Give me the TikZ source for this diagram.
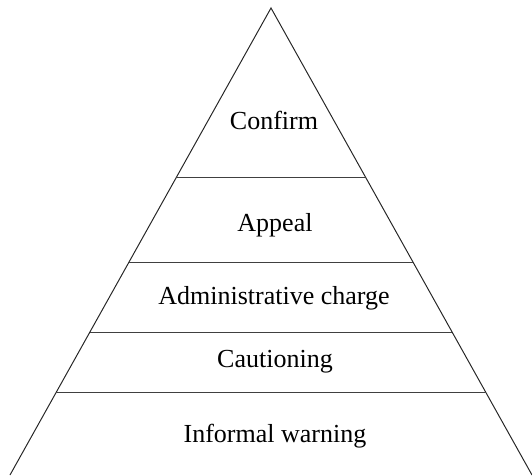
\documentclass[tikz,border=0pt]{standalone}
\usepackage{fontspec}
\setmainfont{Liberation Serif}
\usetikzlibrary{calc}

\begin{document}
\begin{tikzpicture}[
    x=0.025cm, y=0.025cm,
    side line/.style={black!85, line width=0.7pt},
    level line/.style={black!75, line width=0.7pt},
    level label/.style={font=\fontsize{18.5}{22}\selectfont, inner sep=0pt, anchor=base}
]
    \useasboundingbox (0,0) rectangle (532,475);

    % Corners of the pyramid
    \coordinate (apex) at (271,467);
    \coordinate (base_left) at (10,0);
    \coordinate (base_right) at (532,0);

    % Two sides (the base lies on the bottom edge)
    \draw[side line] (base_left) -- (apex) -- (base_right);

    % Dividing lines between the levels
    \foreach \t in {0.362, 0.544, 0.694, 0.824} {
        \draw[level line] ($(apex)!\t!(base_left)$) -- ($(apex)!\t!(base_right)$);
    }

    % Level names, top to bottom (placed by baseline)
    \node[level label] (confirm) at (274,345) {Confirm};
    \node[level label] (appeal) at (275,244) {Appeal};
    \node[level label] (admin_charge) at (274,171) {Administrative charge};
    \node[level label] (cautioning) at (275,108) {Cautioning};
    \node[level label] (informal) at (275,33) {Informal warning};

\end{tikzpicture}
\end{document}
